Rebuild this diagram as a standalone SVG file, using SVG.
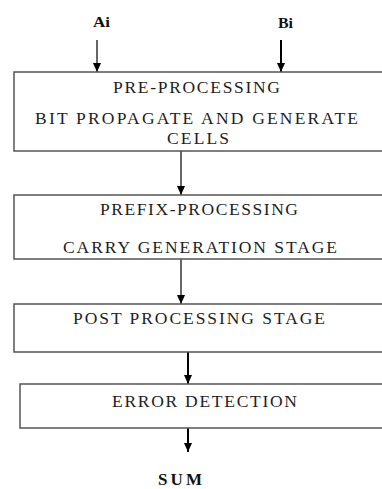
<svg xmlns="http://www.w3.org/2000/svg" width="382" height="489" viewBox="0 0 382 489">
<defs>
<style>
.box{fill:#fff;stroke:#555;stroke-width:1.5}
.t{font-family:'Liberation Serif','DejaVu Serif',serif;font-size:17.5px;fill:#1e1e1e}
.b{font-family:'Liberation Serif','DejaVu Serif',serif;font-weight:bold;fill:#111}
.ln{stroke:#000;stroke-width:1.2;fill:none}
.lt{stroke:#000;stroke-width:2;fill:none}
</style>
<marker id="ah" markerUnits="userSpaceOnUse" markerWidth="10" markerHeight="8" refX="9" refY="4" orient="auto">
<path d="M0,0 L9,4 L0,8 Z" fill="#000"/>
</marker>
</defs>
<rect width="382" height="489" fill="#fff"/>
<g id="connectors">
<line class="ln" x1="97" y1="40" x2="97" y2="72" marker-end="url(#ah)"/>
<line class="lt" x1="281" y1="40" x2="281" y2="72" marker-end="url(#ah)"/>
<line class="ln" x1="181" y1="151" x2="181" y2="195" marker-end="url(#ah)"/>
<line class="ln" x1="181" y1="259" x2="181" y2="304" marker-end="url(#ah)"/>
<line class="lt" x1="188" y1="352" x2="188" y2="384" marker-end="url(#ah)"/>
<line class="lt" x1="188" y1="428" x2="188" y2="452" marker-end="url(#ah)"/>
</g>
<g id="ai"><text class="b" x="93" y="27" font-size="15" textLength="17" lengthAdjust="spacingAndGlyphs">Ai</text></g>
<g id="bi"><text class="b" x="278" y="28" font-size="15" textLength="15" lengthAdjust="spacingAndGlyphs">Bi</text></g>
<g id="pre">
<rect class="box" x="14" y="72" width="380" height="79"/>
<text class="t" x="113" y="93" textLength="167" lengthAdjust="spacing">PRE-PROCESSING</text>
<text class="t" x="35" y="124" textLength="323" lengthAdjust="spacing">BIT PROPAGATE AND GENERATE</text>
<text class="t" x="167" y="143.5" textLength="62" lengthAdjust="spacing">CELLS</text>
</g>
<g id="prefix">
<rect class="box" x="14" y="195" width="380" height="64"/>
<text class="t" x="100" y="215" textLength="198" lengthAdjust="spacing">PREFIX-PROCESSING</text>
<text class="t" x="63" y="252.5" textLength="274" lengthAdjust="spacing">CARRY GENERATION STAGE</text>
</g>
<g id="post">
<rect class="box" x="14" y="304" width="380" height="48"/>
<text class="t" x="73" y="324" textLength="252" lengthAdjust="spacing">POST PROCESSING STAGE</text>
</g>
<g id="error">
<rect class="box" x="20" y="384" width="380" height="44"/>
<text class="t" x="112" y="407" textLength="185" lengthAdjust="spacing">ERROR DETECTION</text>
</g>
<g id="sum"><text class="b" x="158" y="485" font-size="17" textLength="44" lengthAdjust="spacing">SUM</text></g>
</svg>
